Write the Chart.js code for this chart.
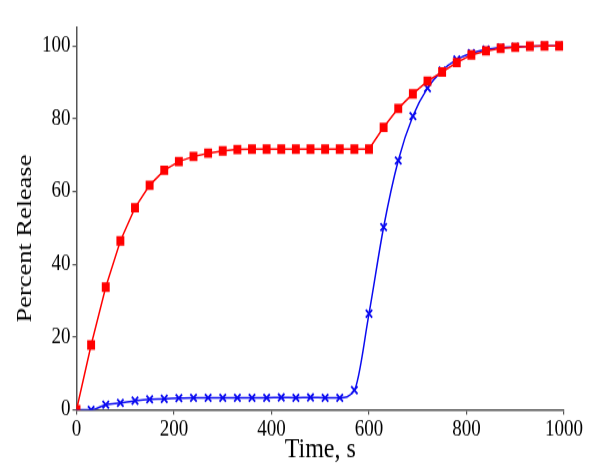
<!DOCTYPE html>
<html>
<head>
<meta charset="utf-8">
<script src="https://cdn.jsdelivr.net/npm/chart.js@4/dist/chart.umd.min.js"></script>
<style>
html,body{margin:0;padding:0;background:#fff;}
body{width:600px;height:473px;position:relative;}
#wrap{position:absolute;left:0;top:0;width:600px;height:394px;transform:scale(1,1.2);transform-origin:0 0;}
</style>
</head>
<body>
<div id="wrap"><canvas id="c" width="600" height="394"></canvas></div>
<script>
const timeS = [0,30,60,90,120,150,180,210,240,270,300,330,360,390,420,450,480,510,540,570,600,630,660,690,720,750,780,810,840,870,900,930,960,990];
const redRelease = [0,17.8,33.7,46.4,55.5,61.7,65.8,68.2,69.6,70.5,71.1,71.5,71.6,71.6,71.6,71.6,71.6,71.6,71.6,71.6,71.6,77.6,82.8,86.8,90.3,92.8,95.4,97.5,98.6,99.3,99.6,99.9,100,100];
const blueRelease = [0,0,1.4,1.9,2.5,2.9,3.0,3.2,3.3,3.3,3.3,3.3,3.3,3.3,3.4,3.3,3.4,3.3,3.3,5.4,26.4,50.2,68.5,80.7,88.4,93.2,96.2,98.0,99.0,99.5,99.7,99.9,100,100];
const xTicks = [0,200,400,600,800,1000];
const yTicks = [0,20,40,60,80,100];

const toPts = arr => timeS.map((t,i)=>({x:t,y:arr[i]}));
const serif = "'Liberation Serif','Times New Roman',serif";

new Chart(document.getElementById('c'), {
  type: 'line',
  data: {
    datasets: [
      {data: toPts(redRelease), borderColor:'#ff0000', backgroundColor:'#ff0000', borderWidth:1.5,
       pointStyle:'rect', pointRadius:5.6, pointBorderWidth:0, tension:0},
      {data: toPts(blueRelease), borderColor:'#0a0af0', backgroundColor:'#0a0af0', borderWidth:1.5,
       pointStyle:'crossRot', pointRadius:4.5, pointBorderWidth:1.8, cubicInterpolationMode:'monotone'}
    ]
  },
  options: {
    responsive:false, animation:false,
    layout:{padding:{left:14,right:36,top:23,bottom:7.5}},
    plugins:{legend:{display:false}, tooltip:{enabled:false}},
    scales:{
      x:{type:'linear', min:0, max:1000,
         afterBuildTicks: s => { s.ticks = xTicks.map(v=>({value:v})); },
         grid:{drawOnChartArea:false, drawTicks:true, tickLength:4, color:'#555', lineWidth:1.2},
         border:{display:true, color:'#555', width:1.5},
         ticks:{font:{family:serif,size:19,lineHeight:1}, color:'#000', padding:3, maxRotation:0,
                callback: v => String(v)},
         title:{display:true, text:'Time, s', font:{family:serif,size:24,lineHeight:1}, color:'#000', padding:{top:-8,bottom:0}}},
      y:{type:'linear', min:0, max:105,
         afterBuildTicks: s => { s.ticks = yTicks.map(v=>({value:v})); },
         grid:{drawOnChartArea:false, drawTicks:true, tickLength:4, color:'#555', lineWidth:1.2},
         border:{display:true, color:'#555', width:1.5},
         ticks:{font:{family:serif,size:19,lineHeight:1}, color:'#000', padding:2, callback: v => String(v)},
         title:{display:true, text:'Percent Release      ', font:{family:serif,size:22,lineHeight:1}, color:'#000', padding:{top:0,bottom:4}}}
    }
  }
});
</script>
</body>
</html>
